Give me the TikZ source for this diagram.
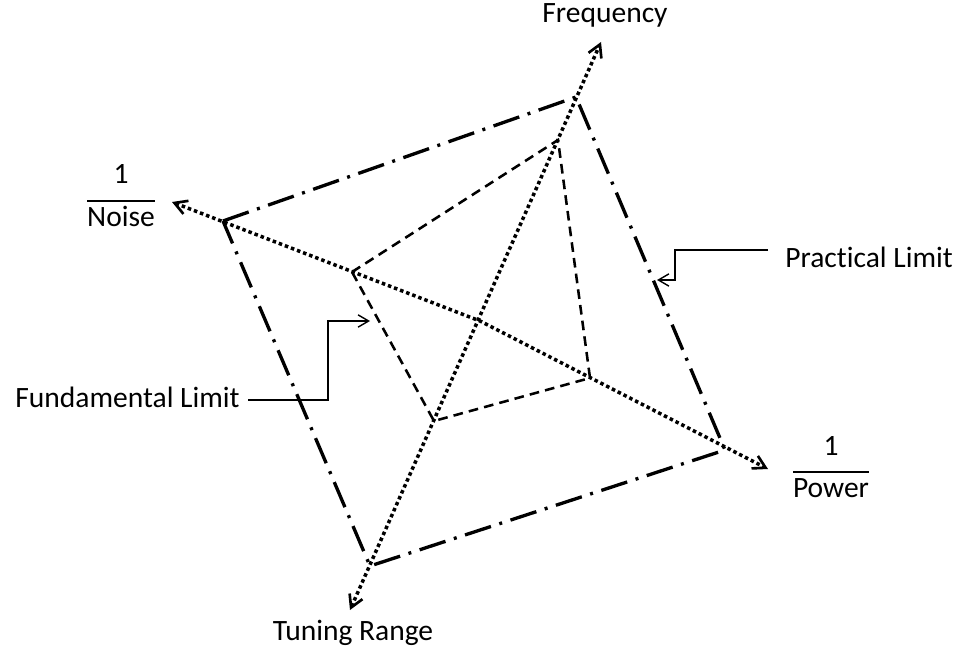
\documentclass[tikz,border=0pt]{standalone}
\usepackage{fontspec}
\setmainfont{Carlito}[Ligatures=NoCommon]
\usetikzlibrary{arrows.meta}
\setlength\arrayrulewidth{1.2pt}
\begin{document}
\begin{tikzpicture}[x=0.02cm,y=-0.02cm,
  font=\fontsize{16.8}{20}\selectfont,
  label/.style={inner sep=0pt},
  axis/.style={line width=2pt, dash pattern=on 2pt off 1.7pt, {Straight Barb[length=7pt,width=8pt,line width=1.5pt]}-{Straight Barb[length=7pt,width=8pt,line width=1.5pt]}},
  outer/.style={line width=1.9pt, dash pattern=on 15.5pt off 5pt on 1.7pt off 5pt},
  inner/.style={line width=1.45pt, dash pattern=on 5.5pt off 3.5pt},
  callout/.style={line width=0.8pt, -{Straight Barb[length=6pt,width=7pt,line width=0.8pt]}}
]
\useasboundingbox (0,0) rectangle (959,655);

% vertices of the practical-limit quadrilateral
\coordinate (oL) at (223,221);
\coordinate (oT) at (576,97);
\coordinate (oR) at (725,450);
\coordinate (oB) at (370,566);
% vertices of the fundamental-limit quadrilateral
\coordinate (iL) at (352,272);
\coordinate (iT) at (558,140);
\coordinate (iR) at (590,378);
\coordinate (iB) at (434,421);
% axis ends and crossing
\coordinate (C) at (480,321);
\coordinate (fTop) at (601,42);
\coordinate (fBot) at (350,610);
\coordinate (nTip) at (172,202);
\coordinate (pTip) at (768,469);

\draw[outer] (oL) -- (oT) -- (oR) -- (oB) -- cycle;
\draw[inner] (iL) -- (iT) -- (iR) -- (iB) -- cycle;

\draw[axis] (fBot) -- (fTop);
\draw[axis] (nTip) -- (C) -- (pTip);

% axis labels
\node[label, anchor=base] (freq) at (605,23) {Frequency};
\node[label, anchor=base] (tuning) at (353,640) {Tuning Range};
\node[label, anchor=base] (noise) at (121,184)
  {\begin{tabular}[t]{@{}c@{}}1\\[3pt]\hline Noise\end{tabular}};
\node[label, anchor=base] (power) at (831,455)
  {\begin{tabular}[t]{@{}c@{}}1\\[3pt]\hline Power\end{tabular}};

% limit labels with their pointers
\node[label, anchor=base west] (prac) at (785,267) {Practical Limit};
\node[label, anchor=base east] (fund) at (240,407) {Fundamental Limit};

\coordinate (pracA) at (768,250);
\coordinate (pracBend) at (675,280);
\coordinate (pracTip) at (657,280);
\draw[callout] (pracA) -| (pracBend) -- (pracTip);

\coordinate (fundA) at (248,400);
\coordinate (fundBend) at (328,321);
\coordinate (fundTip) at (370,321);
\draw[callout] (fundA) -| (fundBend) -- (fundTip);
\end{tikzpicture}
\end{document}
